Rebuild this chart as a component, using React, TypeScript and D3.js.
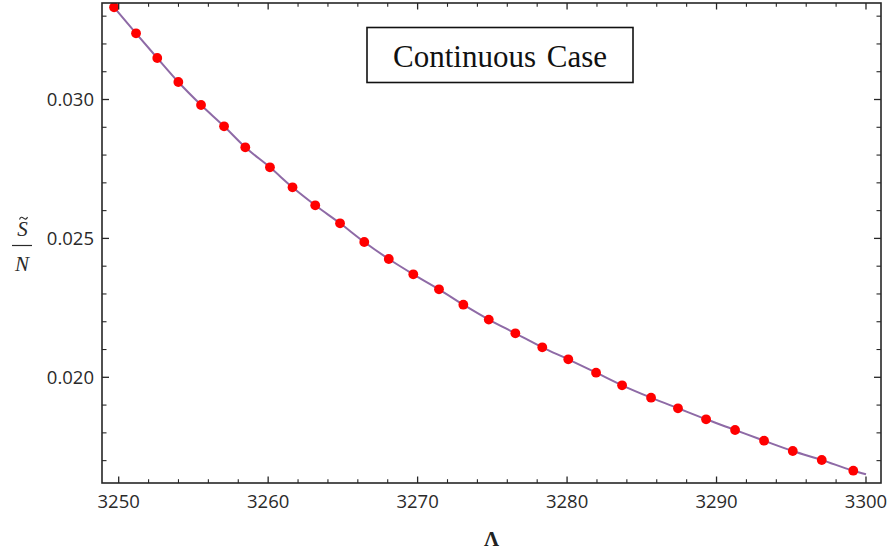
import React from "react";
import * as d3 from "d3";

// Sample points (Λ, S̃/N)
const lambdaValues = [
  3249.69, 3251.16, 3252.58, 3253.99, 3255.51, 3257.05, 3258.47, 3260.12, 3261.63, 3263.15,
  3264.81, 3266.43, 3268.07, 3269.71, 3271.43, 3273.06, 3274.76, 3276.54, 3278.34, 3280.08,
  3281.94, 3283.68, 3285.62, 3287.42, 3289.3, 3291.24, 3293.18, 3295.1, 3297.04, 3299.15,
];
const ratioValues = [
  0.03332, 0.032383, 0.031494, 0.03063, 0.029802, 0.029035, 0.028279, 0.027559, 0.026839, 0.026191,
  0.025544, 0.02487, 0.024258, 0.023708, 0.023168, 0.022613, 0.022077, 0.021584, 0.02108, 0.020648,
  0.020166, 0.019712, 0.019266, 0.018884, 0.018488, 0.018103, 0.017718, 0.017347, 0.017023, 0.016638,
];
// curve continues to the right edge of the range
const lineEndLambda = 3300;
const lineEndRatio = 0.016508;

const xMajorTicks = [3250, 3260, 3270, 3280, 3290, 3300];
const xTickLabels = ["3250", "3260", "3270", "3280", "3290", "3300"];
const xMinorTicks = d3.range(3250, 3301, 2).filter((v) => v % 10 !== 0);
const yMajorTicks = [0.02, 0.025, 0.03];
const yTickLabels = ["0.020", "0.025", "0.030"];
const yMinorTicks = [0.017, 0.018, 0.019, 0.021, 0.022, 0.023, 0.024, 0.026, 0.027, 0.028, 0.029, 0.031, 0.032, 0.033];

const xDomain = [3248.883, 3301.004];
const yDomain = [0.016195, 0.033474];

const titleText = "Continuous Case";
const xLabel = "Λ";

export default function App() {
  const W = 891;
  const H = 554;
  const left = 102;
  const right = 881;
  const top = 3;
  const bottom = 483;

  const x = d3.scaleLinear().domain(xDomain).range([left, right]);
  const y = d3.scaleLinear().domain(yDomain).range([bottom, top]);

  const linePts: [number, number][] = lambdaValues.map((l, i) => [l, ratioValues[i]]);
  linePts.push([lineEndLambda, lineEndRatio]);
  const line = d3
    .line<[number, number]>()
    .x((d) => x(d[0]))
    .y((d) => y(d[1]))
    .curve(d3.curveMonotoneX);

  const frameColor = "#262626";
  const tickFont = "'Open Sans', 'Noto Sans', sans-serif";
  const serif = "'Liberation Serif', 'Times New Roman', serif";

  return (
    <svg
      width={W}
      height={H}
      style={{ position: "absolute", left: 0, top: 0, background: "#fff" }}
    >
      <defs>
        <clipPath id="plotClip">
          <rect x={left} y={top} width={right - left} height={bottom - top} />
        </clipPath>
      </defs>
      <rect x={0} y={0} width={W} height={H} fill="#fff" />

      {/* curve and points */}
      <g clipPath="url(#plotClip)">
        <path d={line(linePts) || ""} fill="none" stroke="#8e6aa6" strokeWidth={2} />
        {lambdaValues.map((l, i) => (
          <circle key={i} cx={x(l)} cy={y(ratioValues[i])} r={4.9} fill="#ff0000" />
        ))}
      </g>

      {/* ticks bottom and top */}
      {xMajorTicks.map((t) => (
        <g key={"xM" + t}>
          <line x1={x(t)} x2={x(t)} y1={bottom} y2={bottom - 6.5} stroke={frameColor} strokeWidth={1.3} />
          <line x1={x(t)} x2={x(t)} y1={top} y2={top + 6.5} stroke={frameColor} strokeWidth={1.3} />
        </g>
      ))}
      {xMinorTicks.map((t) => (
        <g key={"xm" + t}>
          <line x1={x(t)} x2={x(t)} y1={bottom} y2={bottom - 3.8} stroke={frameColor} strokeWidth={1.1} />
          <line x1={x(t)} x2={x(t)} y1={top} y2={top + 3.8} stroke={frameColor} strokeWidth={1.1} />
        </g>
      ))}
      {/* ticks left and right */}
      {yMajorTicks.map((t) => (
        <g key={"yM" + t}>
          <line x1={left} x2={left + 7} y1={y(t)} y2={y(t)} stroke={frameColor} strokeWidth={1.3} />
          <line x1={right} x2={right - 7} y1={y(t)} y2={y(t)} stroke={frameColor} strokeWidth={1.3} />
        </g>
      ))}
      {yMinorTicks.map((t) => (
        <g key={"ym" + t}>
          <line x1={left} x2={left + 4.5} y1={y(t)} y2={y(t)} stroke={frameColor} strokeWidth={1.1} />
          <line x1={right} x2={right - 4.5} y1={y(t)} y2={y(t)} stroke={frameColor} strokeWidth={1.1} />
        </g>
      ))}

      {/* frame */}
      <rect
        x={left}
        y={top}
        width={right - left}
        height={bottom - top}
        fill="none"
        stroke={frameColor}
        strokeWidth={1.6}
      />

      {/* tick labels */}
      {xMajorTicks.map((t, i) => (
        <text
          key={"xl" + t}
          x={x(t)}
          y={508}
          textAnchor="middle"
          fontFamily={tickFont}
          fontSize={18.5}
          fill="#2a2a2a"
        >
          {xTickLabels[i]}
        </text>
      ))}
      {yMajorTicks.map((t, i) => (
        <text
          key={"yl" + t}
          x={94}
          y={y(t)}
          dy="0.36em"
          textAnchor="end"
          fontFamily={tickFont}
          fontSize={18.5}
          fill="#2a2a2a"
        >
          {yTickLabels[i]}
        </text>
      ))}

      {/* axis labels */}
      <text x={(left + right) / 2} y={546} textAnchor="middle" fontFamily={serif} fontSize={21} fontWeight="bold" fill="#222">
        {xLabel}
      </text>
      <g fontFamily={serif} fontStyle="italic" fill="#2a2a2a">
        <text x={22.5} y={236} textAnchor="middle" fontSize={21}>
          S
        </text>
        <path
          d="M19.5,219.5 C20.5,216.8 22,216.8 23.5,218.2 C25,219.6 26.5,219.6 27.5,217"
          fill="none"
          stroke="#2a2a2a"
          strokeWidth={1.1}
        />
        <line x1={12} x2={32} y1={245.5} y2={245.5} stroke="#2a2a2a" strokeWidth={1.2} />
        <text x={22} y={270.5} textAnchor="middle" fontSize={21}>
          N
        </text>
      </g>

      {/* title box */}
      <rect x={367} y={27.5} width={266} height={55} fill="#fff" stroke="#111" strokeWidth={1.6} />
      <text
        x={500}
        y={66.5}
        textAnchor="middle"
        fontFamily={serif}
        fontSize={31}
        fill="#111"
        style={{ wordSpacing: "3px" }}
      >
        {titleText}
      </text>
    </svg>
  );
}
